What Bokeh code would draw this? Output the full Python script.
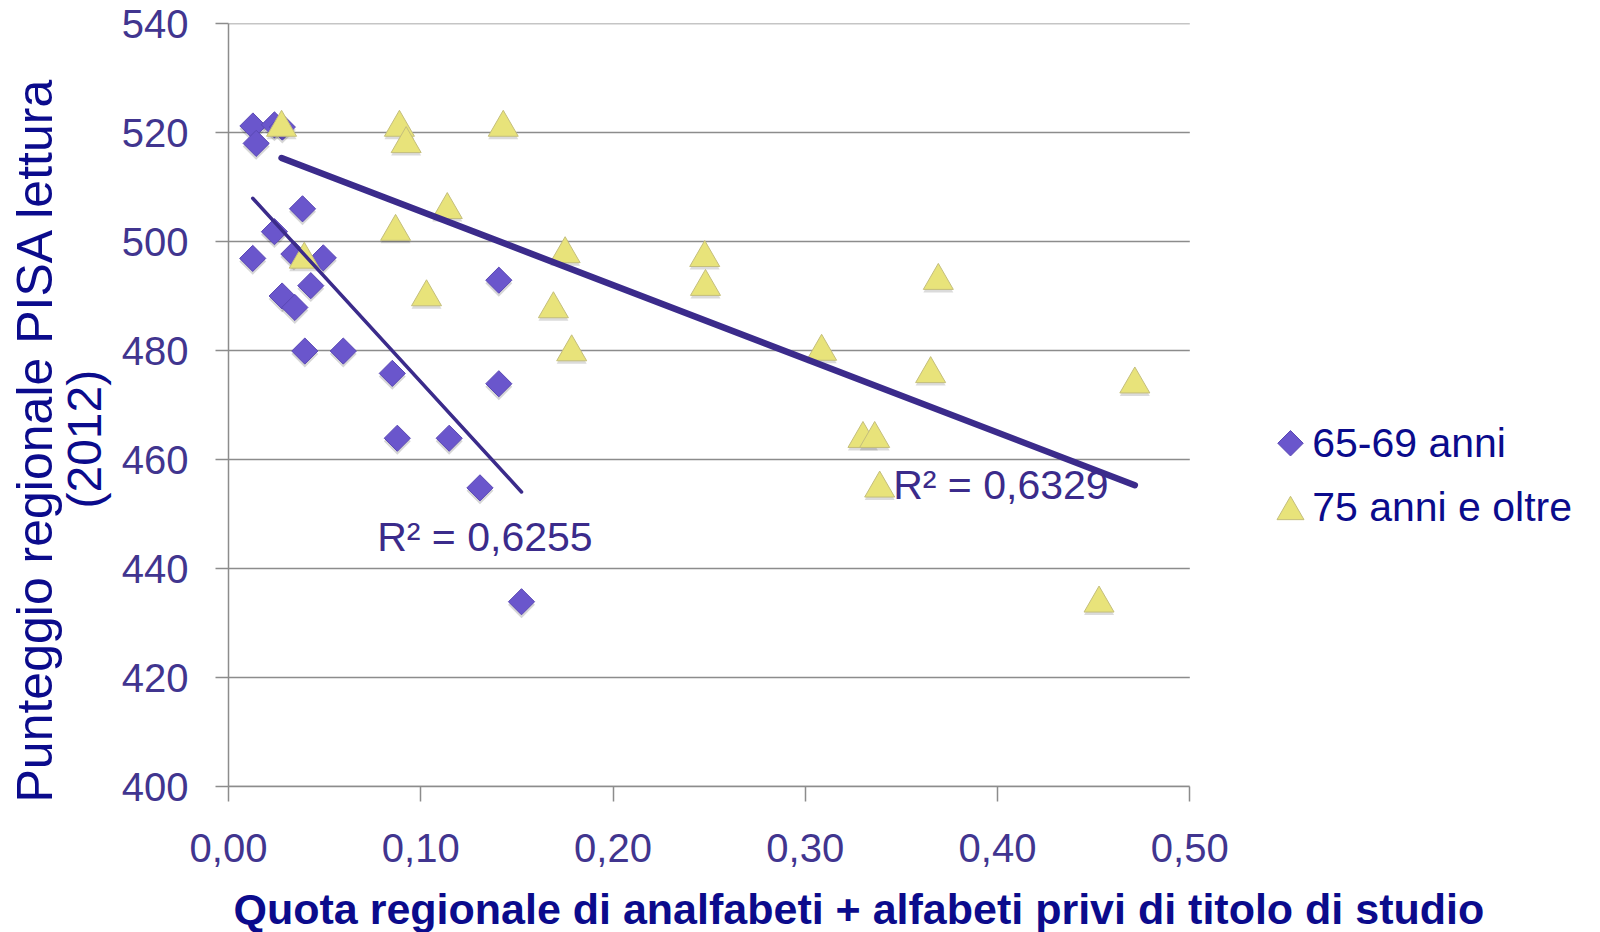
import numpy as np
from bokeh.plotting import figure
from bokeh.models import (Range1d, FixedTicker, CustomJSTickFormatter, Label, Title)
from bokeh.embed import file_html
from bokeh.resources import INLINE

# ---------------- data ----------------
series_names = ["65-69 anni", "75 anni e oltre"]

x65 = [0.0127, 0.0239, 0.0280, 0.0144, 0.0385, 0.0239, 0.0126, 0.0340, 0.0493, 0.0428,
       0.0279, 0.0345, 0.0397, 0.0597, 0.0852, 0.1406, 0.1406, 0.0878, 0.1148, 0.1308, 0.1524]
y65 = [521.2, 521.4, 521.0, 518.0, 506.0, 501.8, 496.9, 497.7, 497.0, 491.9,
       490.0, 487.9, 479.9, 479.9, 475.8, 492.9, 473.9, 463.9, 463.9, 454.8, 433.9]

x75 = [0.0276, 0.0889, 0.0924, 0.1429, 0.1138, 0.0869, 0.0394, 0.1030, 0.1751, 0.1690,
       0.1785, 0.2477, 0.2481, 0.3692, 0.3085, 0.3652, 0.3300, 0.3361, 0.3387, 0.4714, 0.4528]
y75 = [520.9, 520.9, 517.9, 520.9, 505.8, 501.8, 496.7, 489.8, 497.7, 487.6,
       479.7, 497.0, 491.7, 492.8, 479.8, 475.7, 463.8, 463.8, 454.7, 473.8, 433.6]

r2_texts = ["R² = 0,6255", "R² = 0,6329"]

x_ticks = [0.0, 0.1, 0.2, 0.3, 0.4, 0.5]
y_ticks = [400, 420, 440, 460, 480, 500, 520, 540]

x_title = "Quota regionale di analfabeti + alfabeti privi di titolo di studio"
y_title_1 = "Punteggio regionale PISA lettura"
y_title_2 = "(2012)"

# ---------------- styling / layout ----------------
FONT = "Liberation Sans"
NAVY = "#0b0b8c"
TICK_COL = "#41358f"
TREND_COL = "#3b2b8b"
GRID_COL = "#8c8c8c"
DIAMOND_FILL, DIAMOND_LINE = "#6a56cc", "#5a48b4"
TRI_FILL, TRI_LINE = "#e8e37a", "#c4be7c"
W, H = 1600, 932
LEFT, TOP, BOTTOM = 228, 23, 145
AXIS_PX = 961.3            # pixel length of the 0 .. 0.5 axis
Y_PX = H - TOP - BOTTOM    # pixel height of the plotting area
LABEL_SHIFT = 15           # px correction for text placed at an alphabetic baseline

# the frame runs to the right edge so the legend can sit inside it;
# the x range is widened so that 0..0.5 keeps the reference's pixel length
x_end = x_ticks[-1] * (W - LEFT) / AXIS_PX
y0, y1 = y_ticks[0], y_ticks[-1]


def px_to_x(px):   # page x pixel -> data x
    return (px - LEFT) / AXIS_PX * x_ticks[-1]


def px_to_y(py):   # page y pixel -> data y
    return y1 - (py - TOP) / Y_PX * (y1 - y0)


p = figure(width=W, height=H, x_range=Range1d(x_ticks[0], x_end), y_range=Range1d(y0, y1),
           output_backend="svg", toolbar_location=None,
           min_border_left=LEFT, min_border_right=0, min_border_top=TOP,
           min_border_bottom=BOTTOM)
p.outline_line_color = None
p.background_fill_color = "white"
p.xgrid.visible = False
p.ygrid.visible = False

# horizontal grid lines only across the 0 .. 0.5 span
n = len(y_ticks)
p.segment(x0=[x_ticks[0]] * n, x1=[x_ticks[-1]] * n, y0=y_ticks, y1=y_ticks,
          line_color=GRID_COL, line_width=1.5)

fmt = CustomJSTickFormatter(code="return tick.toFixed(2).replace('.', ',');")
p.xaxis.ticker = FixedTicker(ticks=x_ticks)
p.xaxis.formatter = fmt
p.xaxis.bounds = (x_ticks[0], x_ticks[-1])
p.yaxis.ticker = FixedTicker(ticks=y_ticks)

for ax in (p.xaxis[0], p.yaxis[0]):
    ax.axis_line_color = GRID_COL
    ax.axis_line_width = 1.5
    ax.major_tick_line_color = GRID_COL
    ax.major_tick_line_width = 1.5
    ax.major_tick_in = 0
    ax.minor_tick_line_color = None
    ax.major_label_text_font = FONT
    ax.major_label_text_font_size = "40px"
    ax.major_label_text_color = TICK_COL
p.yaxis.major_tick_out = 13
p.yaxis.major_label_standoff = 27
p.xaxis.major_tick_out = 15
p.xaxis.major_label_standoff = 32
# invisible spacer label so that the x title sits lower
p.xaxis.axis_label = " "
p.xaxis.axis_label_text_font_size = "1px"
p.xaxis.axis_label_standoff = 14

# ---------------- glyphs ----------------
shadow_dy = 3 * (y1 - y0) / Y_PX
p.scatter(x65, [v - shadow_dy for v in y65], marker="square", angle=np.pi / 4, size=19,
          fill_color="black", fill_alpha=0.16, line_color=None)
p.scatter(x65, y65, marker="square", angle=np.pi / 4, size=18.5,
          fill_color=DIAMOND_FILL, line_color=DIAMOND_LINE, line_width=1)
p.scatter(x75, [v - shadow_dy for v in y75], marker="triangle", size=30,
          fill_color="black", fill_alpha=0.14, line_color=None)
p.scatter(x75, y75, marker="triangle", size=30,
          fill_color=TRI_FILL, line_color=TRI_LINE, line_width=1)

for xs, ys, w in ((x65, y65, 3.5), (x75, y75, 6.5)):
    k, b = np.polyfit(xs, ys, 1)
    tx = np.array([min(xs), max(xs)])
    p.line(tx, k * tx + b, line_color=TREND_COL, line_width=w, line_cap="round")

for txt, (lx, ly) in zip(r2_texts, ((376.7, 551.7), (892.7, 500.0))):
    p.add_layout(Label(x=px_to_x(lx), y=px_to_y(ly - LABEL_SHIFT), text=txt, text_font=FONT,
                       text_font_size="41px", text_color=TREND_COL,
                       text_baseline="alphabetic"))

# ---------------- legend (drawn in the free area right of the data) ----------------
lg_x = px_to_x(1290)
p.scatter([lg_x], [px_to_y(443.3)], marker="square", angle=np.pi / 4, size=18,
          fill_color=DIAMOND_FILL, line_color=DIAMOND_LINE, line_width=1)
p.scatter([lg_x], [px_to_y(512)], marker="triangle", size=27,
          fill_color=TRI_FILL, line_color=TRI_LINE, line_width=1)
for name, base in zip(series_names, (458.3, 521.7)):
    p.add_layout(Label(x=px_to_x(1311.7), y=px_to_y(base - LABEL_SHIFT), text=name,
                       text_font=FONT, text_font_size="41px", text_color=NAVY,
                       text_baseline="alphabetic"))

# ---------------- titles ----------------
p.add_layout(Title(text=x_title, align="left", offset=5, standoff=0, text_font=FONT,
                   text_font_size="43px", text_font_style="bold", text_color=NAVY), "below")
p.add_layout(Title(text=y_title_2, align="left", offset=278, standoff=15, text_font=FONT,
                   text_font_size="48px", text_font_style="normal", text_color=NAVY), "left")
p.add_layout(Title(text=y_title_1, align="left", offset=-16, standoff=-28, text_font=FONT,
                   text_font_size="50px", text_font_style="normal", text_color=NAVY), "left")

open("out.html", "w").write(file_html(p, INLINE))
